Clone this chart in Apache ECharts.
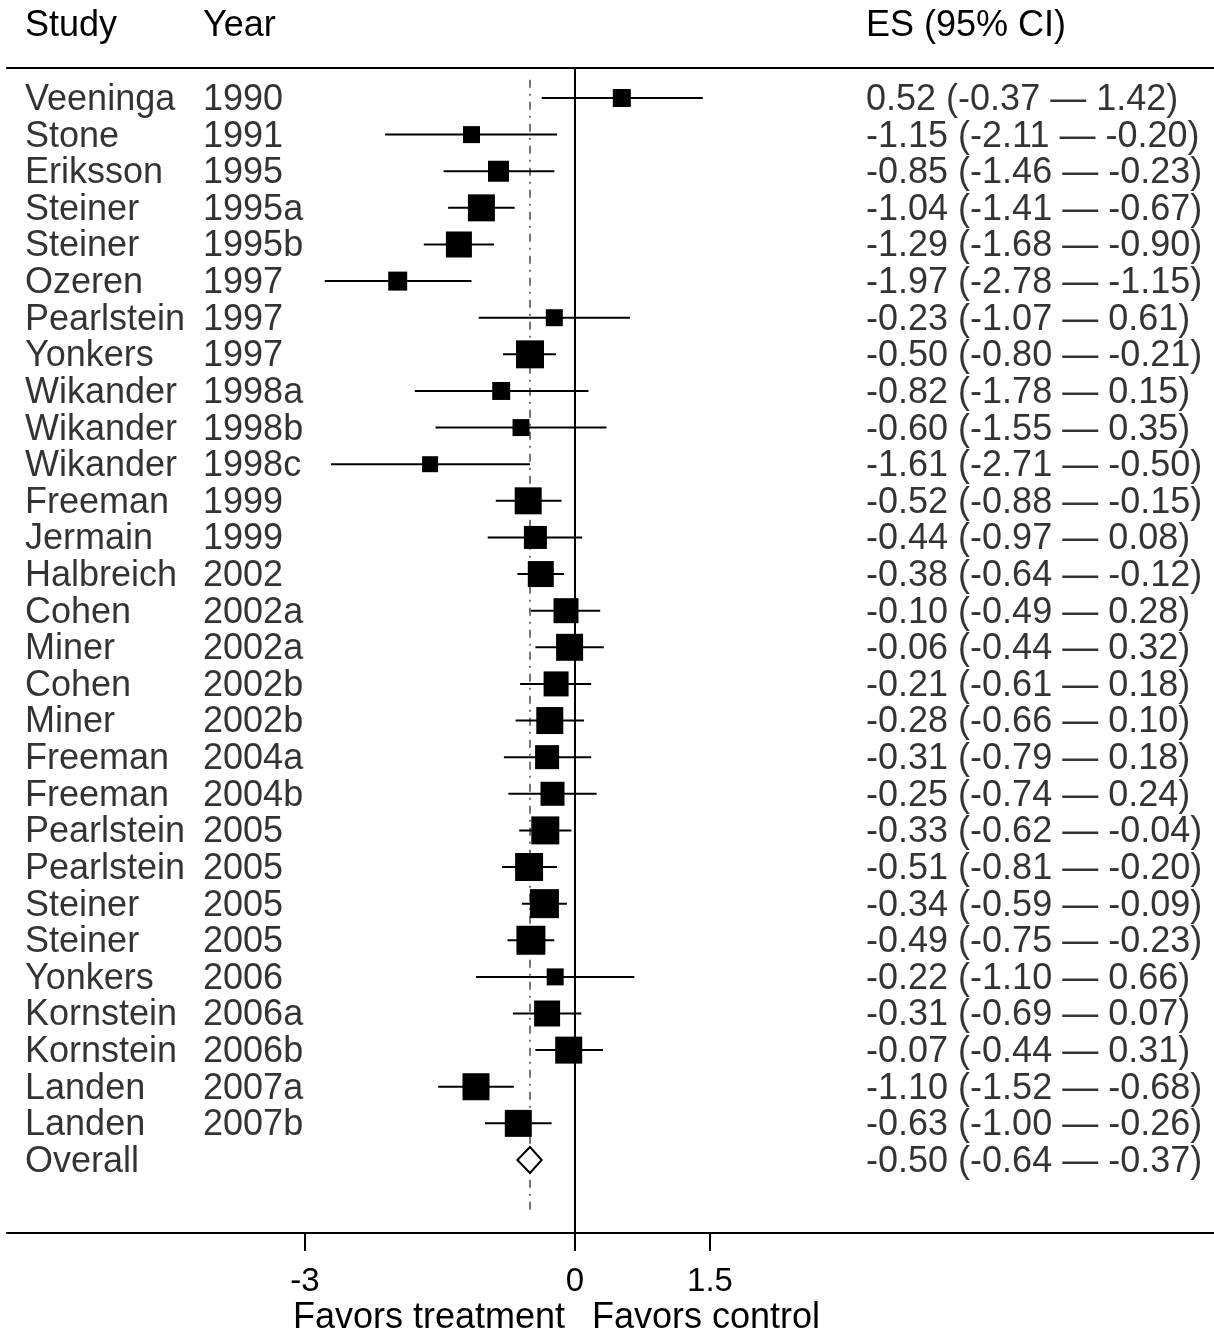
<!DOCTYPE html>
<html><head><meta charset="utf-8">
<script src="https://cdn.jsdelivr.net/npm/echarts@6/dist/echarts.min.js"></script>
<style>html,body{margin:0;padding:0;background:#fff}#c{width:1214px;height:1338px}</style>
</head><body><div id="c"></div>
<script>
// ---------- data ----------
const studies = ['Veeninga','Stone','Eriksson','Steiner','Steiner','Ozeren','Pearlstein','Yonkers','Wikander','Wikander','Wikander','Freeman','Jermain','Halbreich','Cohen','Miner','Cohen','Miner','Freeman','Freeman','Pearlstein','Pearlstein','Steiner','Steiner','Yonkers','Kornstein','Kornstein','Landen','Landen'];
const years = ['1990','1991','1995','1995a','1995b','1997','1997','1997','1998a','1998b','1998c','1999','1999','2002','2002a','2002a','2002b','2002b','2004a','2004b','2005','2005','2005','2005','2006','2006a','2006b','2007a','2007b'];
const es = [0.52,-1.15,-0.85,-1.04,-1.29,-1.97,-0.23,-0.50,-0.82,-0.60,-1.61,-0.52,-0.44,-0.38,-0.10,-0.06,-0.21,-0.28,-0.31,-0.25,-0.33,-0.51,-0.34,-0.49,-0.22,-0.31,-0.07,-1.10,-0.63];
const ciLow = [-0.37,-2.11,-1.46,-1.41,-1.68,-2.78,-1.07,-0.80,-1.78,-1.55,-2.71,-0.88,-0.97,-0.64,-0.49,-0.44,-0.61,-0.66,-0.79,-0.74,-0.62,-0.81,-0.59,-0.75,-1.10,-0.69,-0.44,-1.52,-1.00];
const ciHigh = [1.42,-0.20,-0.23,-0.67,-0.90,-1.15,0.61,-0.21,0.15,0.35,-0.50,-0.15,0.08,-0.12,0.28,0.32,0.18,0.10,0.18,0.24,-0.04,-0.20,-0.09,-0.23,0.66,0.07,0.31,-0.68,-0.26];
// relative study weights (%)
const weights = [1.91,1.70,2.60,4.30,3.99,2.13,1.70,4.62,1.91,1.70,1.51,4.30,3.12,3.99,3.69,4.30,3.69,4.30,3.40,3.40,4.62,4.62,4.96,4.96,1.70,3.99,4.30,4.30,4.30];
const overallLabel = 'Overall';
const overallES = -0.50, overallLow = -0.64, overallHigh = -0.37;
const xTicks = [-3, 0, 1.5];
const headers = ['Study', 'Year', 'ES (95% CI)'];
const xNames = ['Favors treatment', 'Favors control'];

// ---------- layout ----------
const X0 = 575, PXU = 90;
const gridL = 7, gridR = 1214, gridT = 68, gridB = 1233;
const xMin = (gridL - X0) / PXU, xMax = (gridR - X0) / PXU;
const ROW0 = 98, ROWH = 36.62;
const yMin = (gridT - ROW0) / ROWH, yMax = (gridB - ROW0) / ROWH;
const pxToX = px => (px - X0) / PXU;
const FONT = '"Liberation Sans", Arial, sans-serif';
const FS = 36;
const n = studies.length;
const fmt = v => v.toFixed(2);
const esText = (e, l, h) => fmt(e) + ' (' + fmt(l) + ' \u2014 ' + fmt(h) + ')';

const studyLabels = studies.concat([overallLabel]);
const esLabels = es.map((e, i) => esText(e, ciLow[i], ciHigh[i])).concat([esText(overallES, overallLow, overallHigh)]);

function textSeries(px, labels) {
  return {
    type: 'scatter', silent: true, symbolSize: 0.1, z: 5,
    itemStyle: { color: 'transparent' },
    data: labels.map((t, i) => [pxToX(px), i]),
    label: {
      show: true, position: 'right', distance: 0, color: '#000', offset: [0, 2],
      fontSize: FS, fontFamily: FONT,
      formatter: p => labels[p.dataIndex]
    }
  };
}

const chart = echarts.init(document.getElementById('c'), null, { renderer: 'canvas' });
chart.setOption({
  animation: false,
  backgroundColor: '#fff',
  grid: { left: gridL, right: 1214 - gridR, top: gridT, bottom: 1338 - gridB, containLabel: false },
  xAxis: [{
    type: 'value', min: xMin, max: xMax, position: 'bottom',
    axisLine: { show: true, onZero: false, lineStyle: { color: '#000', width: 2 } },
    axisTick: { show: true, customValues: xTicks, length: 18, lineStyle: { color: '#000', width: 2 } },
    axisLabel: { show: true, customValues: xTicks, color: '#000', fontSize: 33, fontFamily: FONT, margin: 32,
      formatter: v => String(v) },
    splitLine: { show: false }
  }, {
    type: 'value', min: xMin, max: xMax, position: 'top',
    axisLine: { show: true, onZero: false, lineStyle: { color: '#000', width: 2 } },
    axisTick: { show: false }, axisLabel: { show: false }, splitLine: { show: false }
  }],
  yAxis: {
    type: 'value', inverse: true, min: yMin, max: yMax,
    axisLine: { show: false }, axisTick: { show: false }, axisLabel: { show: false }, splitLine: { show: false }
  },
  series: [
    { // zero line
      type: 'line', silent: true, symbol: 'none', z: 2,
      data: [[0, yMin], [0, yMax]],
      lineStyle: { color: '#000', width: 2 }
    },
    { // overall dashed line
      type: 'line', silent: true, symbol: 'none', z: 1,
      data: [[overallES, -0.5], [overallES, n + 1.5]],
      lineStyle: { color: '#777', width: 2, type: [8, 6, 2, 6] }
    },
    { // CIs
      type: 'custom', silent: true, z: 3,
      data: ciLow.map((l, i) => [l, ciHigh[i], i]),
      encode: { x: [0, 1], y: 2 },
      renderItem: (params, api) => {
        const a = api.coord([api.value(0), api.value(2)]);
        const b = api.coord([api.value(1), api.value(2)]);
        return { type: 'line', shape: { x1: a[0], y1: a[1], x2: b[0], y2: b[1] },
          style: { stroke: '#000', lineWidth: 2 } };
      }
    },
    { // boxes
      type: 'scatter', silent: true, z: 4, symbol: 'rect',
      data: es.map((e, i) => [e, i, weights[i]]),
      symbolSize: v => 13.02 * Math.sqrt(v[2]),
      itemStyle: { color: '#000', opacity: 1 }
    },
    { // overall diamond
      type: 'custom', silent: true, z: 4,
      data: [[overallES, overallLow, overallHigh, n]],
      encode: { x: [1, 2], y: 3 },
      renderItem: (params, api) => {
        const l = api.coord([api.value(1), api.value(3)]);
        const r = api.coord([api.value(2), api.value(3)]);
        const c = api.coord([api.value(0), api.value(3)]);
        const h = 13;
        return { type: 'polygon',
          shape: { points: [[l[0], c[1]], [c[0], c[1] - h], [r[0], c[1]], [c[0], c[1] + h]] },
          style: { fill: '#fff', stroke: '#000', lineWidth: 2 } };
      }
    },
    textSeries(25, studyLabels),
    textSeries(203, years),
    textSeries(866, esLabels)
  ]
});
// header row and axis titles
const zx = chart.convertToPixel({ xAxisIndex: 0 }, 0);
const tstyle = (text, align) => ({ text, fill: '#000', font: FS + 'px ' + FONT, align, verticalAlign: 'middle' });
chart.setOption({
  graphic: [
    { type: 'text', id: 'h0', x: 25, y: 26, style: tstyle(headers[0], 'left') },
    { type: 'text', id: 'h1', x: 203, y: 26, style: tstyle(headers[1], 'left') },
    { type: 'text', id: 'h2', x: 866, y: 26, style: tstyle(headers[2], 'left') },
    { type: 'text', id: 'ft', x: zx - 10, y: 1318, style: tstyle(xNames[0], 'right') },
    { type: 'text', id: 'fc', x: zx + 17, y: 1318, style: tstyle(xNames[1], 'left') }
  ]
});
</script>
</body></html>
